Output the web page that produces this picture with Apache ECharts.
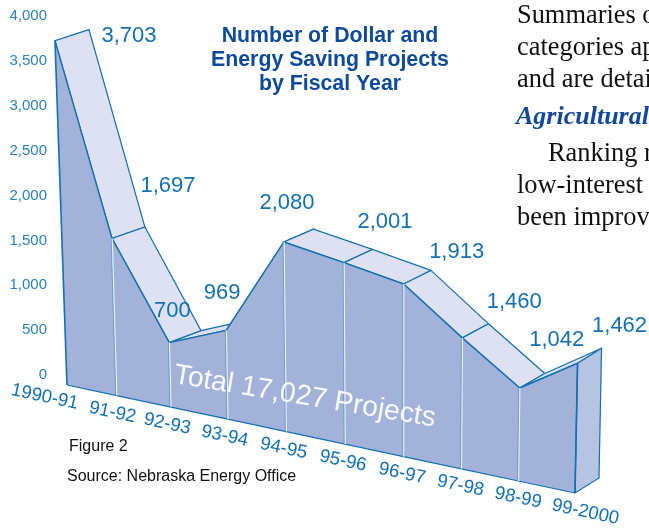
<!DOCTYPE html>
<html>
<head>
<meta charset="utf-8">
<style>
  html, body { margin: 0; padding: 0; background: #fff; overflow: hidden; }
  #chart { width: 649px; height: 529px; }
</style>
<script src="https://cdn.jsdelivr.net/npm/echarts@6/dist/echarts.min.js"></script>
</head>
<body>
<div id="chart"></div>
<script>
var fiscalYears = ['1990-91', '91-92', '92-93', '93-94', '94-95', '95-96', '96-97', '97-98', '98-99', '99-2000'];
var projectCounts = [3703, 1697, 700, 969, 2080, 2001, 1913, 1460, 1042, 1462];
var valueLabels = ['3,703', '1,697', '700', '969', '2,080', '2,001', '1,913', '1,460', '1,042', '1,462'];
var titleLines = ['Number of Dollar and', 'Energy Saving Projects', 'by Fiscal Year'];
var bodyLines = ['Summaries of', 'categories ap', 'and are detai'];
var bodyLinesAfter = ['Ranking r', 'low-interest', 'been improv'];

var BLUE = '#1270b4';
var LABEL_BLUE = '#1270b4';
var AXIS_BLUE = '#2a80bd';
var FRONT = '#a2b2d9';
var RIBBON = '#dde1f1';
var SIDE = '#b6c3e1';
var FONT = '"Liberation Sans", Arial, sans-serif';
var SERIF = '"Liberation Serif", "Times New Roman", serif';

// corners of the tilted chart plane on the page
var baseLeft = [67, 385];
var baseRight = [575, 493];
var topLeft = [54, 13];
var topRight = [582, 138];
var foreshorten = 0.17;
// how far the ribbon runs back, at the first and at the last year
var depthNear = [34, -11];
var depthFar = [24, -15];

// where each number sits, from the front top corner of its year
var valueLabelOffset = [
  [74, -5], [56, -53], [3, -32], [-4, -37], [3, -39],
  [41, -41], [53, -32], [52, -36], [37, -48], [42, -37]
];

var myChart = echarts.init(document.getElementById('chart'));

function lerp(a, b, t) {
  return [a[0] + (b[0] - a[0]) * t, a[1] + (b[1] - a[1]) * t];
}

// maps a point of the flat grid on to the tilted plane
function project(api, i, value) {
  var p = api.coord([i, value]);
  var o = api.coord([0, 0]);
  var far = api.coord([fiscalYears.length - 1, 4000]);
  var s = (p[0] - o[0]) / (far[0] - o[0]);
  var t = (o[1] - p[1]) / (o[1] - far[1]);
  s = s - foreshorten * s * Math.pow(1 - s, 3);
  return lerp(lerp(baseLeft, baseRight, s), lerp(topLeft, topRight, s), t);
}

function behind(api, i, value) {
  var p = project(api, i, value);
  var d = lerp(depthNear, depthFar, i / (fiscalYears.length - 1));
  return [p[0] + d[0], p[1] + d[1]];
}

function renderRibbon(params, api) {
  var i = api.value(0);
  var last = fiscalYears.length - 1;
  if (i === last) return null;
  return {
    type: 'polygon',
    shape: {
      points: [
        project(api, i, projectCounts[i]),
        project(api, i + 1, projectCounts[i + 1]),
        behind(api, i + 1, projectCounts[i + 1]),
        behind(api, i, projectCounts[i])
      ]
    },
    style: { fill: RIBBON, stroke: BLUE, lineWidth: 1.2 }
  };
}

function renderFront(params, api) {
  var i = api.value(0);
  var last = fiscalYears.length - 1;
  var children = [];
  var foot = project(api, i, 0);
  var head = project(api, i, projectCounts[i]);
  if (i < last) {
    var nextFoot = project(api, i + 1, 0);
    var nextHead = project(api, i + 1, projectCounts[i + 1]);
    children.push({
      type: 'polygon',
      shape: { points: [foot, nextFoot, nextHead, head] },
      style: { fill: FRONT, stroke: null }
    });
    children.push({
      type: 'polyline',
      shape: { points: [head, nextHead] },
      style: { stroke: BLUE, lineWidth: 1.4, fill: null }
    });
    children.push({
      type: 'line',
      shape: { x1: foot[0], y1: foot[1], x2: nextFoot[0], y2: nextFoot[1] },
      style: { stroke: BLUE, lineWidth: 1.2 }
    });
  } else {
    // the open end of the ribbon, seen from the side
    children.push({
      type: 'polygon',
      shape: { points: [foot, head, behind(api, i, projectCounts[i]), behind(api, i, 0)] },
      style: { fill: SIDE, stroke: BLUE, lineWidth: 1.2 }
    });
  }
  return { type: 'group', children: children };
}

function renderPosts(params, api) {
  var i = api.value(0);
  var last = fiscalYears.length - 1;
  var foot = project(api, i, 0);
  var head = project(api, i, projectCounts[i]);
  var edge = i === 0 || i === last;
  var children = [{
    type: 'line',
    shape: { x1: foot[0], y1: foot[1], x2: head[0], y2: head[1] },
    style: { stroke: edge ? BLUE : '#eef3fa', lineWidth: edge ? 1.6 : 1.5 }
  }];
  if (!edge) {
    children.push({
      type: 'line',
      shape: { x1: foot[0] - 0.8, y1: foot[1], x2: head[0] - 0.8, y2: head[1] },
      style: { stroke: BLUE, lineWidth: 0.7, opacity: 0.7 }
    });
  }
  return { type: 'group', children: children };
}

function renderText(params, api) {
  var i = api.value(0);
  var foot = project(api, i, 0);
  var head = project(api, i, projectCounts[i]);
  var off = valueLabelOffset[i];
  var first = i === 0;
  var drift = -28 + 5 * i / (fiscalYears.length - 1);
  return {
    type: 'group',
    children: [
      {
        type: 'text',
        x: foot[0] + (first ? 11 : drift),
        y: foot[1] + (first ? 19 : 12),
        rotation: -12 * Math.PI / 180,
        style: {
          text: fiscalYears[i],
          fill: LABEL_BLUE,
          font: '18.6px ' + FONT,
          align: first ? 'right' : 'left',
          verticalAlign: 'middle'
        }
      },
      {
        type: 'text',
        x: head[0] + off[0],
        y: head[1] + off[1],
        style: {
          text: valueLabels[i],
          fill: LABEL_BLUE,
          font: '22px ' + FONT,
          align: 'center',
          verticalAlign: 'middle'
        }
      }
    ]
  };
}

function textLine(text, x, y, font, fill, extra) {
  return Object.assign({
    type: 'text',
    x: x,
    y: y,
    z: 20,
    style: { text: text, font: font, fill: fill, verticalAlign: 'middle' }
  }, extra || {});
}

var pageText = [
  textLine('Figure 2', 69, 447, '16px ' + FONT, '#111'),
  textLine('Source: Nebraska Energy Office', 67, 477, '16px ' + FONT, '#111'),
  textLine('Total 17,027 Projects', 174, 375, '28.4px ' + FONT, 'rgba(255,255,255,0.92)', { rotation: -9.5 * Math.PI / 180 }),
  textLine('Agricultural', 516, 117, 'italic bold 26px ' + SERIF, '#12479e')
];
bodyLines.forEach(function (line, i) {
  pageText.push(textLine(line, 517, 16 + i * 32, '26.4px ' + SERIF, '#111'));
});
bodyLinesAfter.forEach(function (line, i) {
  pageText.push(textLine(line, i === 0 ? 548 : 517, 154 + i * 32, '26.4px ' + SERIF, '#111'));
});

var rows = fiscalYears.map(function (name, i) {
  return [i, projectCounts[i]];
});

var option = {
  animation: false,
  title: {
    text: titleLines.join('\n'),
    left: 325,
    top: 19,
    textAlign: 'center',
    textStyle: { color: '#0d4a9c', fontFamily: FONT, fontWeight: 'bold', fontSize: 21.3, lineHeight: 24 }
  },
  grid: { left: 50, right: 74, top: 16, bottom: 154 },
  xAxis: {
    type: 'category',
    data: fiscalYears,
    boundaryGap: false,
    show: false
  },
  yAxis: {
    type: 'value',
    min: 0,
    max: 4000,
    interval: 500,
    axisLine: { show: false },
    axisTick: { show: false },
    splitLine: { show: false },
    axisLabel: {
      margin: 3,
      color: AXIS_BLUE,
      fontFamily: FONT,
      fontSize: 15,
      formatter: function (v) {
        return v.toLocaleString('en-US');
      }
    }
  },
  graphic: { elements: pageText },
  series: [
    { type: 'custom', name: 'ribbon', data: rows, renderItem: renderRibbon, z: 2, silent: true },
    { type: 'custom', name: 'front', data: rows, renderItem: renderFront, z: 3, silent: true },
    { type: 'custom', name: 'posts', data: rows, renderItem: renderPosts, z: 4, silent: true },
    { type: 'custom', name: 'labels', data: rows, renderItem: renderText, z: 5, silent: true }
  ]
};

myChart.setOption(option);
</script>
</body>
</html>
